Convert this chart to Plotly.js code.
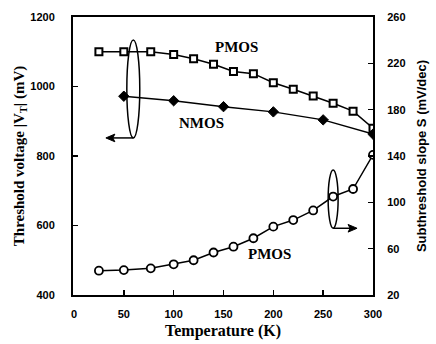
<!DOCTYPE html>
<html>
<head>
<meta charset="utf-8">
<script src="https://cdn.plot.ly/plotly-3.0.1.min.js"></script>
<style>html,body{margin:0;padding:0;background:#fff;}#chart{width:436px;height:344px;}</style>
</head>
<body>
<div id="chart"></div>
<script>
// Temperatures (K)
const tempPMOS = [25, 50, 77, 100, 120, 140, 160, 180, 200, 220, 240, 260, 280, 300];
const tempNMOS = [50, 100, 150, 200, 250, 300];
// Threshold voltage |VT| (mV)
const vtPMOS = [1100, 1100, 1100, 1092, 1080, 1064, 1043, 1037, 1011, 992, 973, 952, 929, 880];
const vtNMOS = [972, 959, 942, 927, 904, 863];
// Subthreshold slope S (mV/dec)
const sPMOS = [41, 41.5, 43, 46.5, 50, 56.7, 61.7, 69, 79, 84.7, 93, 105, 111.5, 141];

const xTicks = [0, 50, 100, 150, 200, 250, 300];
const yLeftTicks = [400, 600, 800, 1000, 1200];
const yRightTicks = [20, 60, 100, 140, 180, 220, 260];

const tickFont = {family: 'Liberation Sans, Arial, sans-serif', size: 11, color: '#000', weight: 'bold'};
const serifBold = {family: 'Liberation Serif, Times New Roman, serif', size: 15, color: '#000', weight: 'bold'};

const traces = [
  {x: tempPMOS, y: vtPMOS, mode: 'lines+markers', yaxis: 'y', showlegend: false,
   line: {color: '#000', width: 1.5},
   marker: {symbol: 'square', size: 7, color: '#fff', line: {color: '#000', width: 2}}},
  {x: tempNMOS, y: vtNMOS, mode: 'lines+markers', yaxis: 'y', showlegend: false,
   line: {color: '#000', width: 1.5},
   marker: {symbol: 'diamond', size: 8, color: '#000', line: {color: '#000', width: 1}}},
  {x: tempPMOS, y: sPMOS, mode: 'lines+markers', yaxis: 'y2', showlegend: false,
   line: {color: '#000', width: 1.5},
   marker: {symbol: 'circle', size: 8, color: '#fff', line: {color: '#000', width: 1.8}}}
];

const layout = {
  width: 436, height: 344,
  margin: {l: 73, r: 63, t: 17, b: 49},
  paper_bgcolor: '#fff', plot_bgcolor: '#fff',
  showlegend: false,
  xaxis: {
    range: [-1, 300], tickvals: xTicks, ticktext: xTicks.map(String),
    ticks: 'inside', ticklen: 5, tickwidth: 1.5, tickcolor: '#000',
    showline: true, linecolor: '#000', linewidth: 2, mirror: true,
    showgrid: false, zeroline: false, tickfont: tickFont, ticklabelstandoff: 8,
    title: {text: 'Temperature (K)', font: Object.assign({}, serifBold, {size: 16}), standoff: 6}
  },
  yaxis: {
    range: [400, 1200], tickvals: yLeftTicks, ticktext: yLeftTicks.map(String),
    ticks: 'inside', ticklen: 5, tickwidth: 1.5, tickcolor: '#000',
    showline: true, linecolor: '#000', linewidth: 2,
    showgrid: false, zeroline: false, tickfont: tickFont, ticklabelstandoff: 14,
    title: {text: 'Threshold voltage |V<sub>T</sub>| (mV)', font: serifBold, standoff: 2}
  },
  yaxis2: {
    range: [20, 260], tickvals: yRightTicks, ticktext: yRightTicks.map(String),
    overlaying: 'y', side: 'right',
    ticks: 'inside', ticklen: 5, tickwidth: 1.5, tickcolor: '#000',
    showline: true, linecolor: '#000', linewidth: 2,
    showgrid: false, zeroline: false, tickfont: tickFont, ticklabelstandoff: 10,
    title: {text: 'Subthreshold slope S (mV/dec)', font: {family: 'Liberation Sans, Arial, sans-serif', size: 13, color: '#000', weight: 'bold'}, standoff: 12}
  },
  shapes: [
    // ellipses grouping curves with their axes
    {type: 'circle', xref: 'x', yref: 'y', x0: 53, x1: 66, y0: 852, y1: 1134, line: {color: '#000', width: 1.5}},
    {type: 'circle', xref: 'x', yref: 'y', x0: 255, x1: 265, y0: 592, y1: 760, line: {color: '#000', width: 1.5}},
    // left-pointing arrow
    {type: 'line', xref: 'x', yref: 'y', x0: 59.5, x1: 36, y0: 852, y1: 852, line: {color: '#000', width: 1.5}},
    {type: 'path', xref: 'x', yref: 'y', path: 'M 32 852 L 41 863 L 39 852 L 41 841 Z', fillcolor: '#000', line: {color: '#000', width: 1}},
    // right-pointing arrow
    {type: 'line', xref: 'x', yref: 'y', x0: 260, x1: 280, y0: 592, y1: 592, line: {color: '#000', width: 1.5}},
    {type: 'path', xref: 'x', yref: 'y', path: 'M 284 592 L 275 603 L 277 592 L 275 581 Z', fillcolor: '#000', line: {color: '#000', width: 1}}
  ],
  annotations: [
    {x: 163.5, y: 1114, xref: 'x', yref: 'y', text: 'PMOS', showarrow: false, font: serifBold},
    {x: 127.5, y: 896, xref: 'x', yref: 'y', text: 'NMOS', showarrow: false, font: serifBold},
    {x: 196.5, y: 518, xref: 'x', yref: 'y', text: 'PMOS', showarrow: false, font: serifBold}
  ]
};

Plotly.newPlot('chart', traces, layout, {displayModeBar: false, staticPlot: true});
</script>
</body>
</html>
